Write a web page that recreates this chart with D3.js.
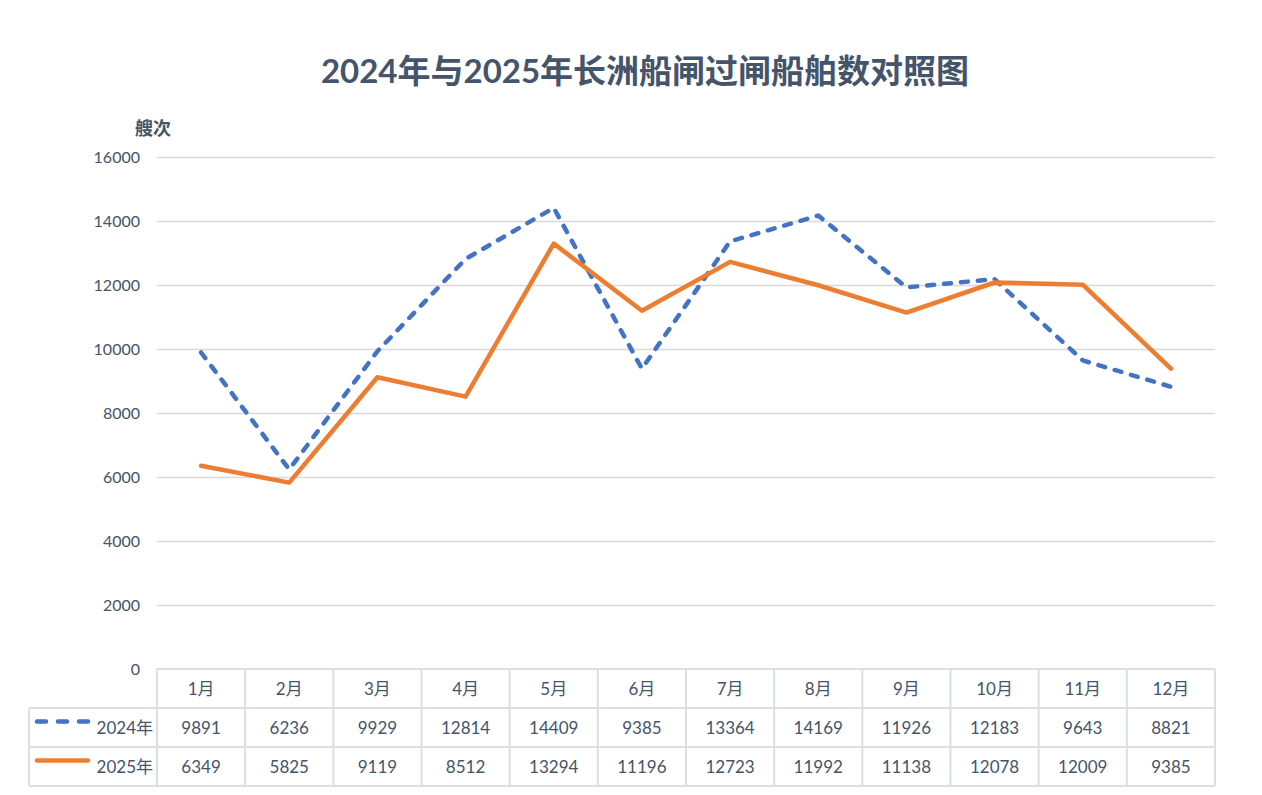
<!DOCTYPE html>
<html>
<head>
<meta charset="utf-8">
<script src="https://cdn.jsdelivr.net/npm/d3@7"></script>
<style>
  body { margin: 0; background: #fff; }
  svg text { font-family: Lato, "Noto Sans CJK SC", sans-serif; }
</style>
</head>
<body>
<div id="chart"></div>
<script>
// --- Data ---
const months = ["1月", "2月", "3月", "4月", "5月", "6月", "7月", "8月", "9月", "10月", "11月", "12月"];
const values2024 = [9891, 6236, 9929, 12814, 14409, 9385, 13364, 14169, 11926, 12183, 9643, 8821];
const values2025 = [6349, 5825, 9119, 8512, 13294, 11196, 12723, 11992, 11138, 12078, 12009, 9385];
const yTicks = [0, 2000, 4000, 6000, 8000, 10000, 12000, 14000, 16000];
const seriesNames = ["2024年", "2025年"];

// --- Layout ---
const W = 1262, H = 795;
const PLOT = { left: 157, right: 1215, top: 157, bottom: 669 };
const ROW_H = 39;
const LEGEND_LEFT = 29;
const TEXT_COLOR = "#44546a";
const GRID_COLOR = "#d9d9d9";
const TABLE_COLOR = "#dadee5";

const series = [
    { name: seriesNames[0], values: values2024, color: "#4472c4", dash: "7,10" },
    { name: seriesNames[1], values: values2025, color: "#ed7d31", dash: null }
];

const svg = d3.select("#chart").append("svg")
    .attr("width", W)
    .attr("height", H);

// --- Scales ---
const xScale = d3.scaleBand()
    .domain(months)
    .range([PLOT.left, PLOT.right]);

const yScale = d3.scaleLinear()
    .domain([0, 16000])
    .range([PLOT.bottom, PLOT.top]);

// --- Title ---
svg.append("text")
    .attr("x", 645)
    .attr("y", 83)
    .attr("text-anchor", "middle")
    .style("font-size", "33px")
    .style("font-weight", "bold")
    .attr("fill", TEXT_COLOR)
    .text("2024年与2025年长洲船闸过闸船舶数对照图");

// unit label
svg.append("text")
    .attr("x", 135)
    .attr("y", 135)
    .style("font-size", "18px")
    .style("font-weight", "bold")
    .attr("fill", TEXT_COLOR)
    .text("艘次");

// --- Grid + y axis ---
const yAxis = d3.axisLeft(yScale)
    .tickValues(yTicks)
    .tickSize(-(PLOT.right - PLOT.left))
    .tickPadding(17)
    .tickFormat(d3.format("d"));

const yG = svg.append("g")
    .attr("transform", `translate(${PLOT.left},0)`)
    .call(yAxis);

yG.select(".domain").remove();
yG.selectAll(".tick line")
    .attr("stroke", GRID_COLOR)
    .attr("stroke-width", 1.5);
yG.selectAll(".tick")
    .filter(d => d === 0)
    .select("line")
    .remove();
yG.selectAll(".tick text")
    .style("font-size", "16px")
    .attr("fill", TEXT_COLOR);

// --- Lines ---
const lineGen = d3.line()
    .x((d, i) => xScale(months[i]) + xScale.bandwidth() / 2)
    .y(d => yScale(d));

series.forEach(s => {
    const p = svg.append("path")
        .datum(s.values)
        .attr("fill", "none")
        .attr("stroke", s.color)
        .attr("stroke-width", 4.5)
        .attr("stroke-linejoin", "round")
        .attr("stroke-linecap", "round")
        .attr("d", lineGen);
    if (s.dash) p.attr("stroke-dasharray", s.dash);
});

// --- Data table ---
const table = svg.append("g");
const rowTop = i => PLOT.bottom + ROW_H * i;

// horizontal borders
[0, 1, 2, 3].forEach(i => {
    table.append("line")
        .attr("x1", i === 0 ? PLOT.left : LEGEND_LEFT)
        .attr("x2", PLOT.right)
        .attr("y1", rowTop(i))
        .attr("y2", rowTop(i))
        .attr("stroke", TABLE_COLOR)
        .attr("stroke-width", 2);
});

// vertical borders
months.forEach(m => {
    table.append("line")
        .attr("x1", xScale(m))
        .attr("x2", xScale(m))
        .attr("y1", rowTop(0))
        .attr("y2", rowTop(3))
        .attr("stroke", TABLE_COLOR)
        .attr("stroke-width", 2);
});
table.append("line")
    .attr("x1", PLOT.right).attr("x2", PLOT.right)
    .attr("y1", rowTop(0)).attr("y2", rowTop(3))
    .attr("stroke", TABLE_COLOR).attr("stroke-width", 2);
table.append("line")
    .attr("x1", LEGEND_LEFT).attr("x2", LEGEND_LEFT)
    .attr("y1", rowTop(1)).attr("y2", rowTop(3))
    .attr("stroke", TABLE_COLOR).attr("stroke-width", 2);

// header row (months)
table.selectAll(".month-label")
    .data(months)
    .join("text")
    .attr("class", "month-label")
    .attr("x", d => xScale(d) + xScale.bandwidth() / 2)
    .attr("y", rowTop(0) + ROW_H / 2 + 6)
    .attr("text-anchor", "middle")
    .style("font-size", "17px")
    .attr("fill", TEXT_COLOR)
    .text(d => d);

// value rows + legend keys
series.forEach((s, si) => {
    const cy = rowTop(si + 1) + ROW_H / 2;

    const key = table.append("line")
        .attr("x1", 37)
        .attr("x2", 88)
        .attr("y1", cy - 6)
        .attr("y2", cy - 6)
        .attr("stroke", s.color)
        .attr("stroke-width", 4.5)
        .attr("stroke-linecap", "round");
    if (s.dash) key.attr("stroke-dasharray", "9,12");

    table.append("text")
        .attr("x", 153)
        .attr("y", cy + 6)
        .attr("text-anchor", "end")
        .style("font-size", "17px")
        .attr("fill", TEXT_COLOR)
        .text(s.name);

    table.selectAll(`.val-${si}`)
        .data(s.values)
        .join("text")
        .attr("class", `val-${si}`)
        .attr("x", (d, i) => xScale(months[i]) + xScale.bandwidth() / 2)
        .attr("y", cy + 6)
        .attr("text-anchor", "middle")
        .style("font-size", "17px")
        .attr("fill", TEXT_COLOR)
        .text(d => d);
});
</script>
</body>
</html>
